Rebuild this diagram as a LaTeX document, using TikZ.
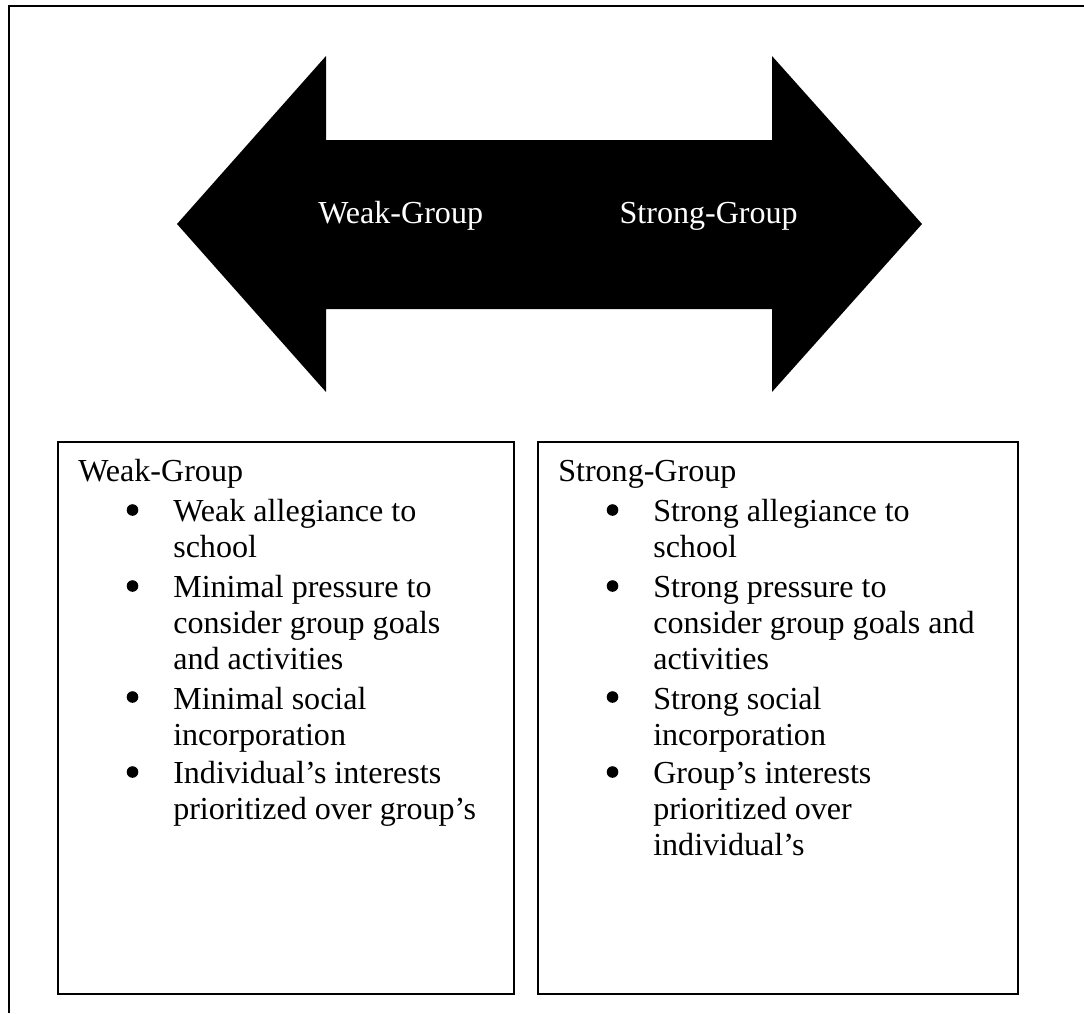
\documentclass[tikz,border=0pt]{standalone}
\usepackage{fontspec}
\setmainfont{Liberation Serif}
\usetikzlibrary{positioning}

\tikzset{
  panel/.style={draw=black, line width=1.4pt, anchor=north west, inner sep=0pt},
  frameline/.style={draw=black, line width=1.4pt},
  label/.style={font=\fontsize{22.8}{25.6}\selectfont, inner sep=0pt, anchor=base west},
  arrowlabel/.style={label, text=white},
  itemtext/.style={label, align=left},
  dot/.style={circle, fill=black, inner sep=0pt, minimum size=0.29cm}
}

\begin{document}
\begin{tikzpicture}[x=0.025cm, y=-0.025cm]
  \useasboundingbox (0,0) rectangle (1084,1013);
  \fill[white] (0,0) rectangle (1084,1013);
  % Frame (top and left edge only)
  \coordinate (frametr) at (1084,6);
  \coordinate (frametl) at (9,6);
  \coordinate (framebl) at (9,1013);
  \draw[frameline] (frametr) -- (frametl) -- (framebl);
  % Double arrow
  \fill[black] (177,224) -- (326,56) -- (326,140) -- (772,140) -- (772,56) -- (922,224)
    -- (772,392) -- (772,309) -- (326,309) -- (326,392) -- cycle;
  \node[arrowlabel] (weaktag) at (318,223) {Weak-Group};
  \node[arrowlabel, anchor=base east] (strongtag) at (798,223) {Strong-Group};
  % Weak-Group box (item nodes sit on the baseline of their last line)
  \node[panel, minimum width=11.4cm, minimum height=13.8cm] (weakbox) at (57,441) {};
  \node[label] (weaktitle) at (78,481) {Weak-Group};
  \node[dot] (wb1) at (132.5,510) {};
  \node[itemtext] (wi1) at (173,557) {Weak allegiance to\\school};
  \node[dot] (wb2) at (132.5,586) {};
  \node[itemtext] (wi2) at (173,669) {Minimal pressure to\\consider group goals\\and activities};
  \node[dot] (wb3) at (132.5,697) {};
  \node[itemtext] (wi3) at (173,745) {Minimal social\\incorporation};
  \node[dot] (wb4) at (132.5,772) {};
  \node[itemtext] (wi4) at (173,819) {Individual's interests\\prioritized over group's};
  % Strong-Group box
  \node[panel, minimum width=12cm, minimum height=13.8cm] (strongbox) at (537,441) {};
  \node[label] (strongtitle) at (558,481) {Strong-Group};
  \node[dot] (sb1) at (612.5,510) {};
  \node[itemtext] (si1) at (653,557) {Strong allegiance to\\school};
  \node[dot] (sb2) at (612.5,586) {};
  \node[itemtext] (si2) at (653,669) {Strong pressure to\\consider group goals and\\activities};
  \node[dot] (sb3) at (612.5,697) {};
  \node[itemtext] (si3) at (653,745) {Strong social\\incorporation};
  \node[dot] (sb4) at (612.5,772) {};
  \node[itemtext] (si4) at (653,855) {Group's interests\\prioritized over\\individual's};
\end{tikzpicture}
\end{document}
